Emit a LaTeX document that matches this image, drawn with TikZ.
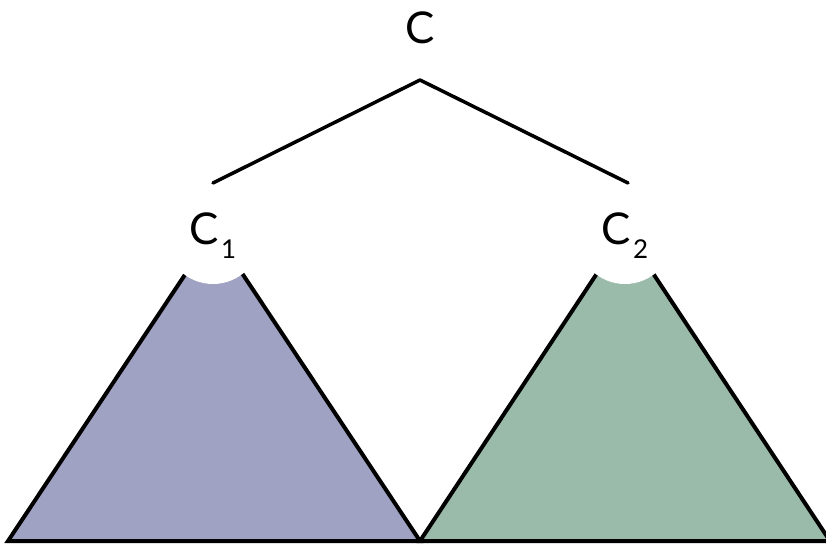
\documentclass[tikz,border=0pt]{standalone}
\usepackage{fontspec}
\setmainfont{Lato}
\usepackage{xcolor}
\definecolor{tblue}{RGB}{160,162,195}
\definecolor{tgreen}{RGB}{155,187,170}
\usepackage{tikz}
\usetikzlibrary{positioning}

\newcommand{\subidx}[1]{\kern2bp\raisebox{-14bp}{\fontsize{26}{26}\selectfont #1}}

\begin{document}
\begin{tikzpicture}[
  x=1bp,y=-1bp,
  lbl/.style={inner sep=0pt,font=\fontsize{44}{44}\selectfont},
  cbox/.style={circle,fill=white,minimum size=96bp,inner sep=0pt,font=\fontsize{44}{44}\selectfont},
  edge/.style={line width=3.5bp,black,line cap=round},
  tri/.style={draw=black,line width=4bp,line join=miter}
]
  \useasboundingbox (0,0) rectangle (826,544);

  % subtrees
  \fill[tblue,tri] (8,541) -- (214,231) -- (420,541) -- cycle;
  \fill[tgreen,tri] (420,541) -- (625,231) -- (830,541) -- cycle;

  % root and children
  \node[lbl] (root) at (420,28) {C};
  \node[cbox] (c1) at (213,236) {C\subidx{1}};
  \node[cbox] (c2) at (625,236) {C\subidx{2}};

  \coordinate (fork) at (420,80);
  \coordinate (c1top) at (213,183);
  \coordinate (c2top) at (628,183);

  \draw[edge] (fork) -- (c1top);
  \draw[edge] (fork) -- (c2top);
\end{tikzpicture}
\end{document}
